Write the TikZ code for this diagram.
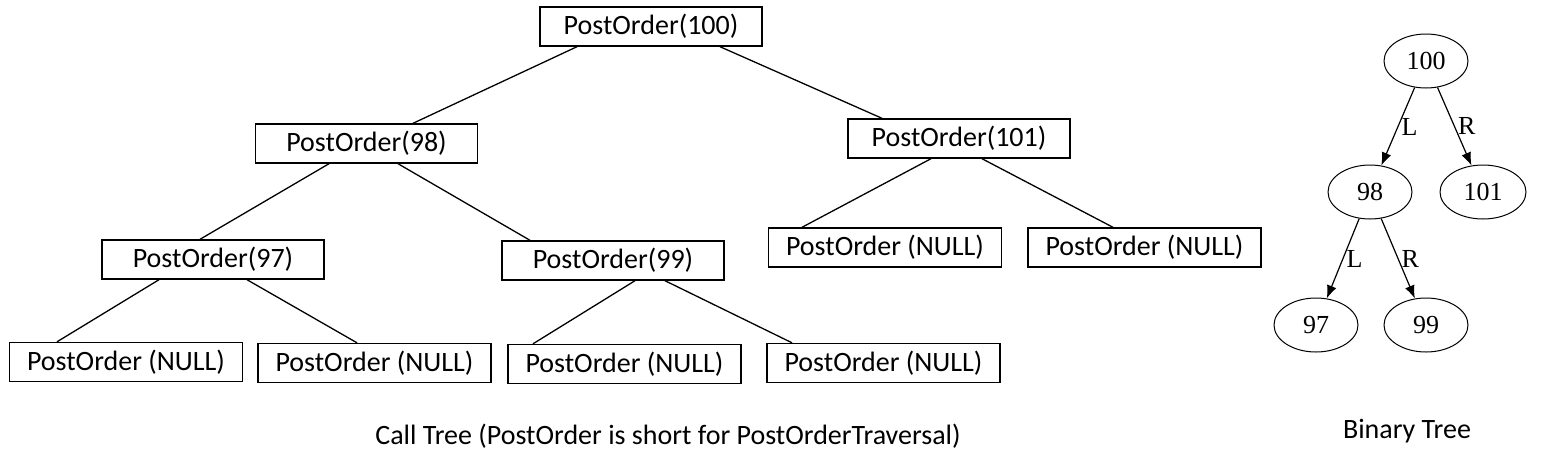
\documentclass[tikz,border=0pt]{standalone}
\usepackage{fontspec}
\setmainfont{Carlito}
\newfontfamily\treefont{Liberation Serif}
\usetikzlibrary{shapes,arrows.meta}

\tikzset{
  callbox/.style={shape=rectangle,draw=black,line width=1.4pt,minimum width=222pt,minimum height=39pt,inner sep=0pt,font=\fontsize{28}{32}\selectfont},
  nullbox/.style={callbox,minimum width=233pt},
  treenode/.style={shape=ellipse,draw=black,line width=1pt,minimum width=84pt,minimum height=54pt,inner sep=0pt,font=\treefont\fontsize{26}{30}\selectfont},
  calledge/.style={draw=black,line width=1.3pt},
  treeedge/.style={-{Latex[length=13pt,width=10pt]},draw=black,line width=1.2pt},
  side/.style={right,inner sep=3pt,font=\treefont\fontsize{26}{30}\selectfont},
  caption/.style={font=\fontsize{28}{32}\selectfont}
}

\begin{document}
\begin{tikzpicture}[x=1pt,y=-1pt]
\useasboundingbox (0,0) rectangle (1545,456);
\node[callbox] (0) at (651,26.5) {PostOrder(100)};
\node[callbox] (1) at (366.5,143.5) {PostOrder(98)};
\node[callbox] (2) at (959,138.5) {PostOrder(101)};
\node[callbox] (3) at (213,259.5) {PostOrder(97)};
\node[callbox] (4) at (613,260.5) {PostOrder(99)};
\node[nullbox] (5) at (885,247.5) {PostOrder (NULL)};
\node[nullbox] (6) at (1144.5,247.5) {PostOrder (NULL)};
\node[nullbox] (7) at (126,362) {PostOrder (NULL)};
\node[nullbox] (8) at (374.5,363) {PostOrder (NULL)};
\node[nullbox] (9) at (624.5,364) {PostOrder (NULL)};
\node[nullbox] (10) at (883.5,363) {PostOrder (NULL)};
\node[caption] (11) at (668,436) {Call Tree (PostOrder is short for PostOrderTraversal)};

\path [calledge] ([xshift=-74pt]0.south) edge node {} ([xshift=46.5pt]1.north);
\path [calledge] ([xshift=69pt]0.south) edge node {} ([xshift=-77pt]2.north);
\path [calledge] ([xshift=-37.5pt]1.south) edge node {} ([xshift=-13pt]3.north);
\path [calledge] ([xshift=31.5pt]1.south) edge node {} ([xshift=-83pt]4.north);
\path [calledge] ([xshift=-28pt]2.south) edge node {} ([xshift=-83pt]5.north);
\path [calledge] ([xshift=23pt]2.south) edge node {} ([xshift=-31.5pt]6.north);
\path [calledge] ([xshift=-54pt]3.south) edge node {} ([xshift=-69pt]7.north);
\path [calledge] ([xshift=34pt]3.south) edge node {} ([xshift=-17.5pt]8.north);
\path [calledge] ([xshift=22pt]4.south) edge node {} ([xshift=-91.5pt]9.north);
\path [calledge] ([xshift=52pt]4.south) edge node {} ([xshift=-91.5pt]10.north);

\node[treenode] (12) at (1426,61) {100};
\node[treenode] (13) at (1370,192) {98};
\node[treenode,minimum width=86pt] (14) at (1483,192) {101};
\node[treenode] (15) at (1316,325) {97};
\node[treenode] (16) at (1426,325) {99};
\node[caption] (17) at (1407,431) {Binary Tree};

\path [treeedge] (12) edge node[side] {L} (13);
\path [treeedge] (12) edge node[side] {R} (14);
\path [treeedge] (13) edge node[side] {L} (15);
\path [treeedge] (13) edge node[side] {R} (16);
\end{tikzpicture}
\end{document}
